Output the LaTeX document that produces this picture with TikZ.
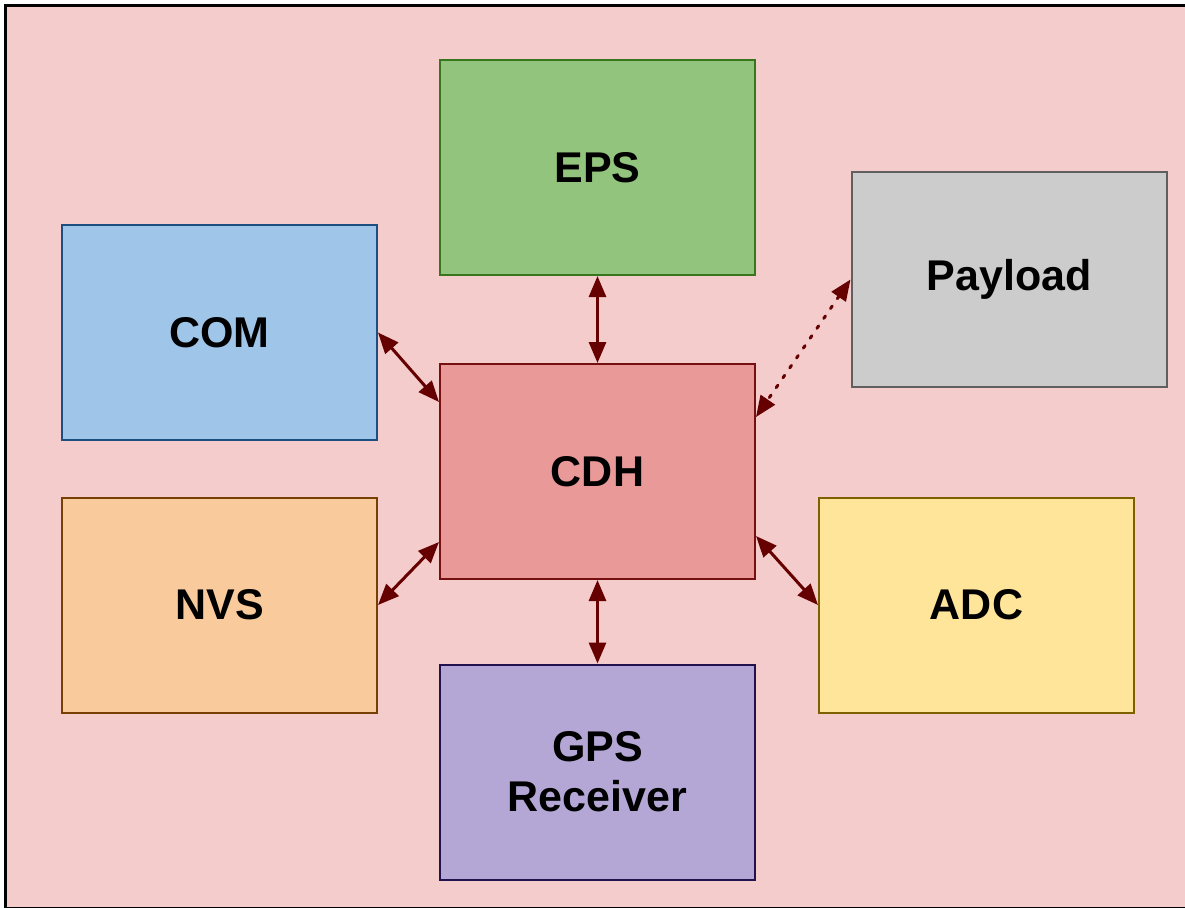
\documentclass[tikz,border=0pt]{standalone}
\usepackage{fontspec}
\setmainfont{Liberation Sans}
\usetikzlibrary{arrows.meta,calc}
\definecolor{bgpink}{HTML}{F4CCCC}
\definecolor{epsfill}{HTML}{93C47D}\definecolor{epsline}{HTML}{38761D}
\definecolor{payfill}{HTML}{CCCCCC}\definecolor{payline}{HTML}{5F5F5F}
\definecolor{comfill}{HTML}{9FC5E8}\definecolor{comline}{HTML}{1C4E80}
\definecolor{cdhfill}{HTML}{EA9999}\definecolor{cdhline}{HTML}{741010}
\definecolor{nvsfill}{HTML}{F9CB9C}\definecolor{nvsline}{HTML}{783F04}
\definecolor{adcfill}{HTML}{FFE599}\definecolor{adcline}{HTML}{7F6000}
\definecolor{gpsfill}{HTML}{B4A7D6}\definecolor{gpsline}{HTML}{20124D}
\definecolor{arrowred}{HTML}{660000}
\tikzset{
  block/.style={draw, line width=1pt, minimum width=157.5pt, minimum height=107.5pt,
    inner sep=0pt, font=\fontsize{21.5}{25}\selectfont\bfseries, align=center, text=black},
  link/.style={draw=arrowred, line width=1.5pt,
    {Triangle[length=10.5pt,width=8.5pt]}-{Triangle[length=10.5pt,width=8.5pt]}},
  dotlink/.style={link, dash pattern=on 1.5pt off 4.5pt, line cap=round}
}
\begin{document}
\begin{tikzpicture}[x=0.5pt,y=-0.5pt]
\useasboundingbox (0,0) rectangle (1185,907);
\clip (0,0) rectangle (1185,907);
\draw[fill=bgpink, line width=1.5pt] (5.5,5.5) rectangle (1192,908);
\node[block, fill=epsfill, draw=epsline] (eps) at (597.5,167.5) {EPS};
\node[block, fill=payfill, draw=payline] (pay) at (1009,279.5) {Payload};
\node[block, fill=comfill, draw=comline] (com) at (219.5,332.5) {COM};
\node[block, fill=cdhfill, draw=cdhline] (cdh) at (597.5,471.5) {CDH};
\node[block, fill=nvsfill, draw=nvsline] (nvs) at (219.5,605) {NVS};
\node[block, fill=adcfill, draw=adcline] (adc) at (976.5,605) {ADC};
\node[block, fill=gpsfill, draw=gpsline] (gps) at (597.5,772) {GPS\\Receiver};
\draw[link] (eps.south) -- (cdh.north);
\draw[link] (cdh.south) -- (gps.north);
\draw[link] (com.east) -- ($(cdh.north west)+(0,39)$);
\draw[link] (nvs.east) -- ($(cdh.south west)+(0,-38)$);
\draw[link] (adc.west) -- ($(cdh.south east)+(0,-44)$);
\draw[dotlink] (pay.west) -- ($(cdh.north east)+(0,54)$);
\end{tikzpicture}
\end{document}
